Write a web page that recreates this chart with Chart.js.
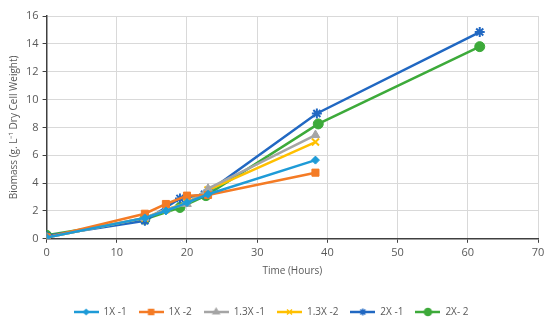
<!DOCTYPE html>
<html>
<head>
<meta charset="utf-8">
<script src="https://cdn.jsdelivr.net/npm/chart.js@4"></script>
<style>
  html, body { margin: 0; padding: 0; background: #fff; }
  #wrap { width: 550px; height: 327px; }
</style>
</head>
<body>
<div id="wrap"><canvas id="biomassChart" width="550" height="327"></canvas></div>
<script>
// series names and values (x = hours, y = g/L)
var seriesNames = ['1X -1', '1X -2', '1.3X -1', '1.3X -2', '2X -1', '2X- 2'];
var hours1X1 = [0, 14, 17, 20, 23, 38.3];
var biomass1X1 = [0.1, 1.5, 2.0, 2.6, 3.2, 5.65];
var hours1X2 = [0, 14, 17, 20, 23, 38.3];
var biomass1X2 = [0.1, 1.8, 2.5, 3.1, 3.15, 4.75];
var hours13X1 = [0, 14, 17, 20, 23, 38.3];
var biomass13X1 = [0.1, 1.5, 2.1, 2.5, 3.6, 7.45];
var hours13X2 = [0, 14, 17, 20, 23, 38.3];
var biomass13X2 = [0.1, 1.5, 2.1, 2.6, 3.5, 6.95];
var hours2X1 = [0, 14, 19, 22.5, 38.5, 61.7];
var biomass2X1 = [0.2, 1.3, 2.9, 3.2, 9.0, 14.85];
var hours2X2 = [0, 14, 19, 22.7, 38.7, 61.7];
var biomass2X2 = [0.25, 1.4, 2.25, 3.1, 8.25, 13.8];
var xTicks = [0, 10, 20, 30, 40, 50, 60, 70];
var yTicks = [0, 2, 4, 6, 8, 10, 12, 14, 16];

var seriesX = [hours1X1, hours1X2, hours13X1, hours13X2, hours2X1, hours2X2];
var seriesY = [biomass1X1, biomass1X2, biomass13X1, biomass13X2, biomass2X1, biomass2X2];
var colors = ['#1E9BD7', '#F47B25', '#A5A5A5', '#FFC000', '#2168C2', '#3DAA3A'];
var markers = ['rectRot', 'rect', 'triangle', 'crossRot', 'star', 'circle'];
var markerSize = [4, 5, 5, 5, 5, 5];

function toPoints(xs, ys) {
  return xs.map(function(x, i) { return { x: x, y: ys[i] }; });
}

// small legend image: line with marker in the middle
function legendIcon(color, style, r) {
  var c = document.createElement('canvas');
  c.width = 25; c.height = 10;
  var g = c.getContext('2d');
  g.strokeStyle = color; g.fillStyle = color; g.lineWidth = 2.5;
  g.beginPath(); g.moveTo(0, 5); g.lineTo(25, 5); g.stroke();
  g.lineWidth = 1.5;
  Chart.helpers.drawPoint(g, { pointStyle: style, radius: r - 1.5, borderWidth: 1.5 }, 12.5, 5);
  return c;
}

document.addEventListener("DOMContentLoaded", function() {
  var datasets = seriesNames.map(function(name, i) {
    return {
      label: name,
      data: toPoints(seriesX[i], seriesY[i]),
      showLine: true,
      borderColor: colors[i],
      backgroundColor: colors[i],
      borderWidth: 2.5,
      pointStyle: markers[i],
      pointRadius: markerSize[i],
      pointBorderWidth: markers[i] === 'crossRot' || markers[i] === 'star' ? 2 : 1
    };
  });

  var tickFont = { family: 'Open Sans', size: 11 };
  var ctx = document.getElementById('biomassChart').getContext('2d');
  new Chart(ctx, {
    type: 'scatter',
    data: { datasets: datasets },
    options: {
      responsive: false,
      animation: false,
      layout: { padding: { left: 4, right: 12, top: 16, bottom: 0 } },
      plugins: {
        legend: {
          position: 'bottom',
          labels: {
            color: '#595959',
            font: { family: 'Open Sans', size: 10 },
            padding: 12,
            usePointStyle: true,
            pointStyleWidth: 25,
            generateLabels: function(chart) {
              return chart.data.datasets.map(function(ds, i) {
                return {
                  text: ds.label,
                  fontColor: '#595959',
                  pointStyle: legendIcon(ds.borderColor, ds.pointStyle, ds.pointRadius),
                  datasetIndex: i,
                  hidden: false
                };
              });
            }
          }
        },
        tooltip: { enabled: false }
      },
      scales: {
        x: {
          type: 'linear',
          min: 0, max: 70,
          afterBuildTicks: function(axis) { axis.ticks = xTicks.map(function(v) { return { value: v }; }); },
          grid: { color: '#D9D9D9', tickColor: '#404040', tickLength: 4, drawTicks: true },
          border: { color: '#404040', width: 1.5 },
          ticks: { color: '#595959', font: tickFont, padding: 3 },
          title: { display: true, text: 'Time (Hours)', color: '#595959', font: { family: 'Open Sans', size: 10 }, padding: { top: 3, bottom: 18 } }
        },
        y: {
          type: 'linear',
          min: 0, max: 16,
          afterBuildTicks: function(axis) { axis.ticks = yTicks.map(function(v) { return { value: v }; }); },
          grid: { color: '#D9D9D9', tickColor: '#404040', tickLength: 4 },
          border: { color: '#404040', width: 1.5 },
          ticks: { color: '#595959', font: tickFont, padding: 4 },
          title: { display: true, text: 'Biomass (g. L\u207B\u00B9 Dry Cell Weight)', color: '#595959', font: { family: 'Open Sans', size: 10 }, padding: { bottom: 2 } }
        }
      }
    }
  });
});
</script>
</body>
</html>
